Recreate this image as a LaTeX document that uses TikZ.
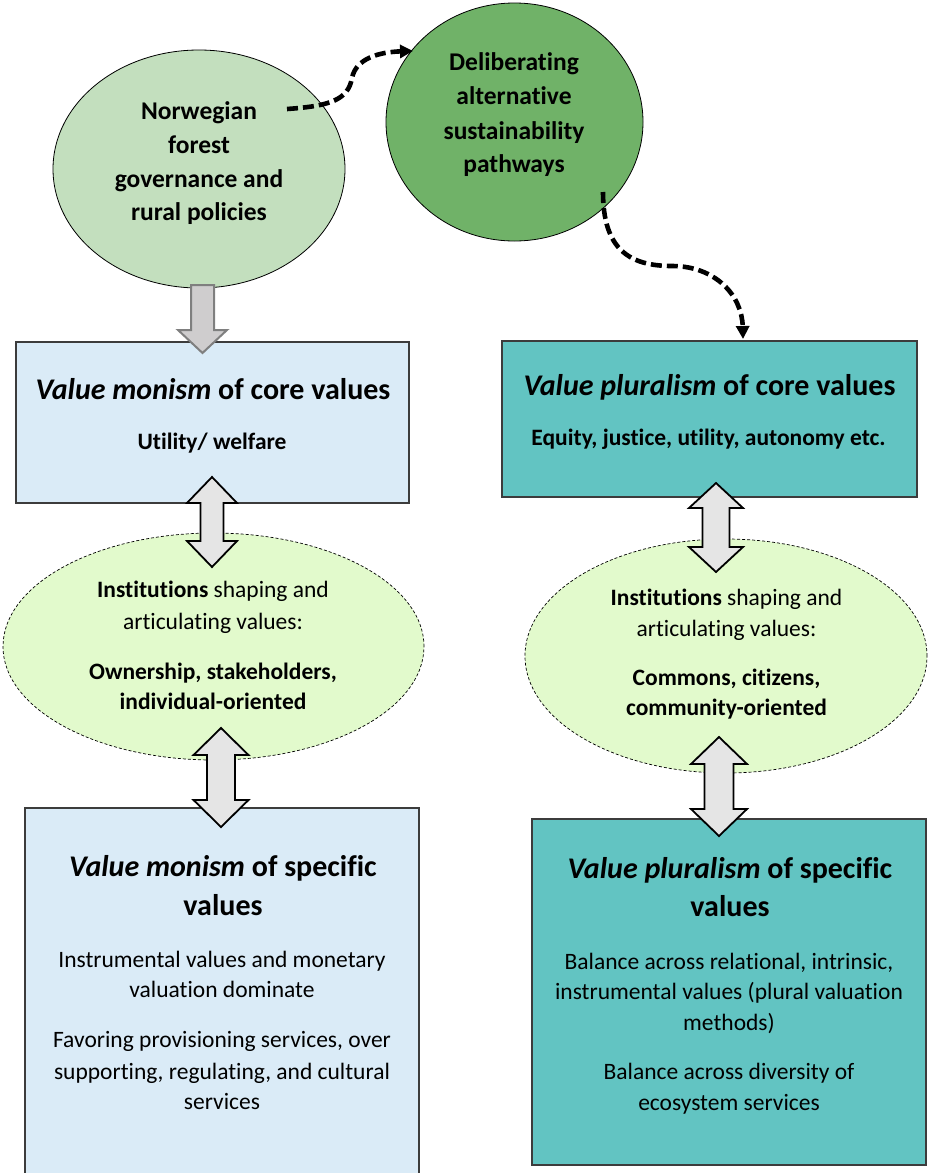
\documentclass[tikz,border=0pt]{standalone}
\usepackage{fontspec}
\setmainfont{Carlito}[Ligatures=NoCommon]
\usetikzlibrary{arrows.meta,shapes.geometric}

\definecolor{govgreen}{RGB}{195,223,190}
\definecolor{delibgreen}{RGB}{112,178,104}
\definecolor{monoblue}{RGB}{218,235,247}
\definecolor{plurteal}{RGB}{98,196,194}
\definecolor{instlime}{RGB}{226,250,204}
\definecolor{arrowfill}{RGB}{229,229,229}
\definecolor{downfill}{RGB}{207,205,206}
\definecolor{downedge}{RGB}{127,127,127}
\definecolor{boxedge}{RGB}{60,60,60}

% double-headed vertical block arrow: x, top tip, bottom tip, head half width, shaft half width, head length
\newcommand\BlockArrowUD[6]{%
  \draw[blockarrow] (#1,#2) -- ({#1+#4},{#2+#6}) -- ({#1+#5},{#2+#6}) -- ({#1+#5},{#3-#6})
    -- ({#1+#4},{#3-#6}) -- (#1,#3) -- ({#1-#4},{#3-#6}) -- ({#1-#5},{#3-#6})
    -- ({#1-#5},{#2+#6}) -- ({#1-#4},{#2+#6}) -- cycle;}

\tikzset{
  govnode/.style={ellipse, draw=black, line width=0.8pt, fill=govgreen, inner sep=0pt},
  delibnode/.style={ellipse, draw=black, line width=0.8pt, fill=delibgreen, inner sep=0pt},
  instnode/.style={ellipse, draw=black, line width=0.7pt, dash pattern=on 3pt off 2pt, fill=instlime, inner sep=0pt},
  monobox/.style={rectangle, draw=boxedge, line width=1.3pt, fill=monoblue, inner sep=0pt},
  plurbox/.style={rectangle, draw=boxedge, line width=1.3pt, fill=plurteal, inner sep=0pt},
  blockarrow/.style={draw=black, line width=1.8pt, fill=arrowfill},
  downarrow/.style={draw=downedge, line width=2pt, fill=downfill},
  dashconn/.style={line width=4.6pt, dash pattern=on 11pt off 5pt, -{Triangle[length=13pt,width=13pt]}},
  headtxt/.style={font=\fontsize{30}{36}\selectfont\bfseries, anchor=base, inner sep=0pt},
  circtxt/.style={font=\fontsize{25.5}{30}\selectfont\bfseries, anchor=base, inner sep=0pt},
  subtxt/.style={font=\fontsize{23.5}{28}\selectfont\bfseries, anchor=base, inner sep=0pt},
  bodytxt/.style={font=\fontsize{23.5}{28}\selectfont, anchor=base, inner sep=0pt},
}

\begin{document}
\begin{tikzpicture}[x=1pt,y=-1pt]
\useasboundingbox (0,0) rectangle (927,1173);

% top: governance and deliberation
\node[govnode, minimum width=292pt, minimum height=238pt] (gov) at (199,169) {};
\node[delibnode, minimum width=257pt, minimum height=238pt] (delib) at (514.5,122) {};

% core value boxes
\node[monobox, minimum width=393pt, minimum height=161pt] (monocore) at (212.5,422.5) {};
\node[plurbox, minimum width=415pt, minimum height=156pt] (plurcore) at (709.5,419) {};

% institution ellipses
\node[instnode, minimum width=421pt, minimum height=227pt] (monoinst) at (213.5,646.5) {};
\node[instnode, minimum width=402pt, minimum height=234pt] (plurinst) at (726,656) {};

% specific value boxes
\node[monobox, minimum width=394pt, minimum height=372pt] (monospec) at (222,994) {};
\node[plurbox, minimum width=394pt, minimum height=346pt] (plurspec) at (729,992) {};

% gray arrow from governance into the monism box
\draw[downarrow] (191,285) -- (214,285) -- (214,330) -- (227,330) -- (202.5,353)
  -- (178,330) -- (191,330) -- cycle;

% two-way block arrows between the levels
\BlockArrowUD{212}{477}{567}{25}{11.5}{26}
\BlockArrowUD{221}{728}{827}{27.5}{14}{27}
\BlockArrowUD{716}{483}{572}{27}{13.5}{25}
\BlockArrowUD{719}{737}{836}{28}{14.5}{27}

% dashed links to and from the deliberation circle
\coordinate (d1s) at (287,109);
\coordinate (d1e) at (413,51);
\draw[dashconn] (d1s) .. controls (330,106) and (348,100) .. (352,78)
  .. controls (356,58) and (380,52) .. (d1e);
\coordinate (d2s) at (603,192);
\coordinate (d2e) at (743,339);
\draw[dashconn] (d2s) .. controls (603,250) and (630,266) .. (672,266)
  .. controls (715,266) and (742,295) .. (d2e);

% texts of the circles
\node[circtxt] (gov1) at (199,119) {Norwegian};
\node[circtxt] (gov2) at (199,153) {forest};
\node[circtxt] (gov3) at (199,187) {governance and};
\node[circtxt] (gov4) at (199,220) {rural policies};
\node[circtxt] (del1) at (514,70) {Deliberating};
\node[circtxt] (del2) at (514,104) {alternative};
\node[circtxt] (del3) at (514,139) {sustainability};
\node[circtxt] (del4) at (514,172) {pathways};

% core value texts
\node[headtxt] (mc1) at (213,399) {{\itshape Value monism} of core values};
\node[subtxt] (mc2) at (212,449) {Utility/ welfare};
\node[headtxt] (pc1) at (709.5,395) {{\itshape Value pluralism} of core values};
\node[subtxt] (pc2) at (708.5,445) {Equity, justice, utility, autonomy etc.};

% institution texts
\node[bodytxt] (mi1) at (213,597) {\textbf{Institutions} shaping and};
\node[bodytxt] (mi2) at (213,629) {articulating values:};
\node[subtxt] (mi3) at (213,679) {Ownership, stakeholders,};
\node[subtxt] (mi4) at (213,709) {individual-oriented};
\node[bodytxt] (pi1) at (726.5,605) {\textbf{Institutions} shaping and};
\node[bodytxt] (pi2) at (726.5,636) {articulating values:};
\node[subtxt] (pi3) at (726.5,685) {Commons, citizens,};
\node[subtxt] (pi4) at (726.5,715) {community-oriented};

% specific value texts
\node[headtxt] (ms1) at (223,876) {{\itshape Value monism} of specific};
\node[headtxt] (ms2) at (223,915) {values};
\node[bodytxt] (ms3) at (222,967) {Instrumental values and monetary};
\node[bodytxt] (ms4) at (222,997) {valuation dominate};
\node[bodytxt] (ms5) at (222,1047) {Favoring provisioning services, over};
\node[bodytxt] (ms6) at (222,1079) {supporting, regulating, and cultural};
\node[bodytxt] (ms7) at (222,1109) {services};
\node[headtxt] (ps1) at (730,878) {{\itshape Value pluralism} of specific};
\node[headtxt] (ps2) at (730,916) {values};
\node[bodytxt] (ps3) at (729,969) {Balance across relational, intrinsic,};
\node[bodytxt] (ps4) at (729,999) {instrumental values (plural valuation};
\node[bodytxt] (ps5) at (729,1030) {methods)};
\node[bodytxt] (ps6) at (729,1079) {Balance across diversity of};
\node[bodytxt] (ps7) at (729,1110) {ecosystem services};
\end{tikzpicture}
\end{document}
